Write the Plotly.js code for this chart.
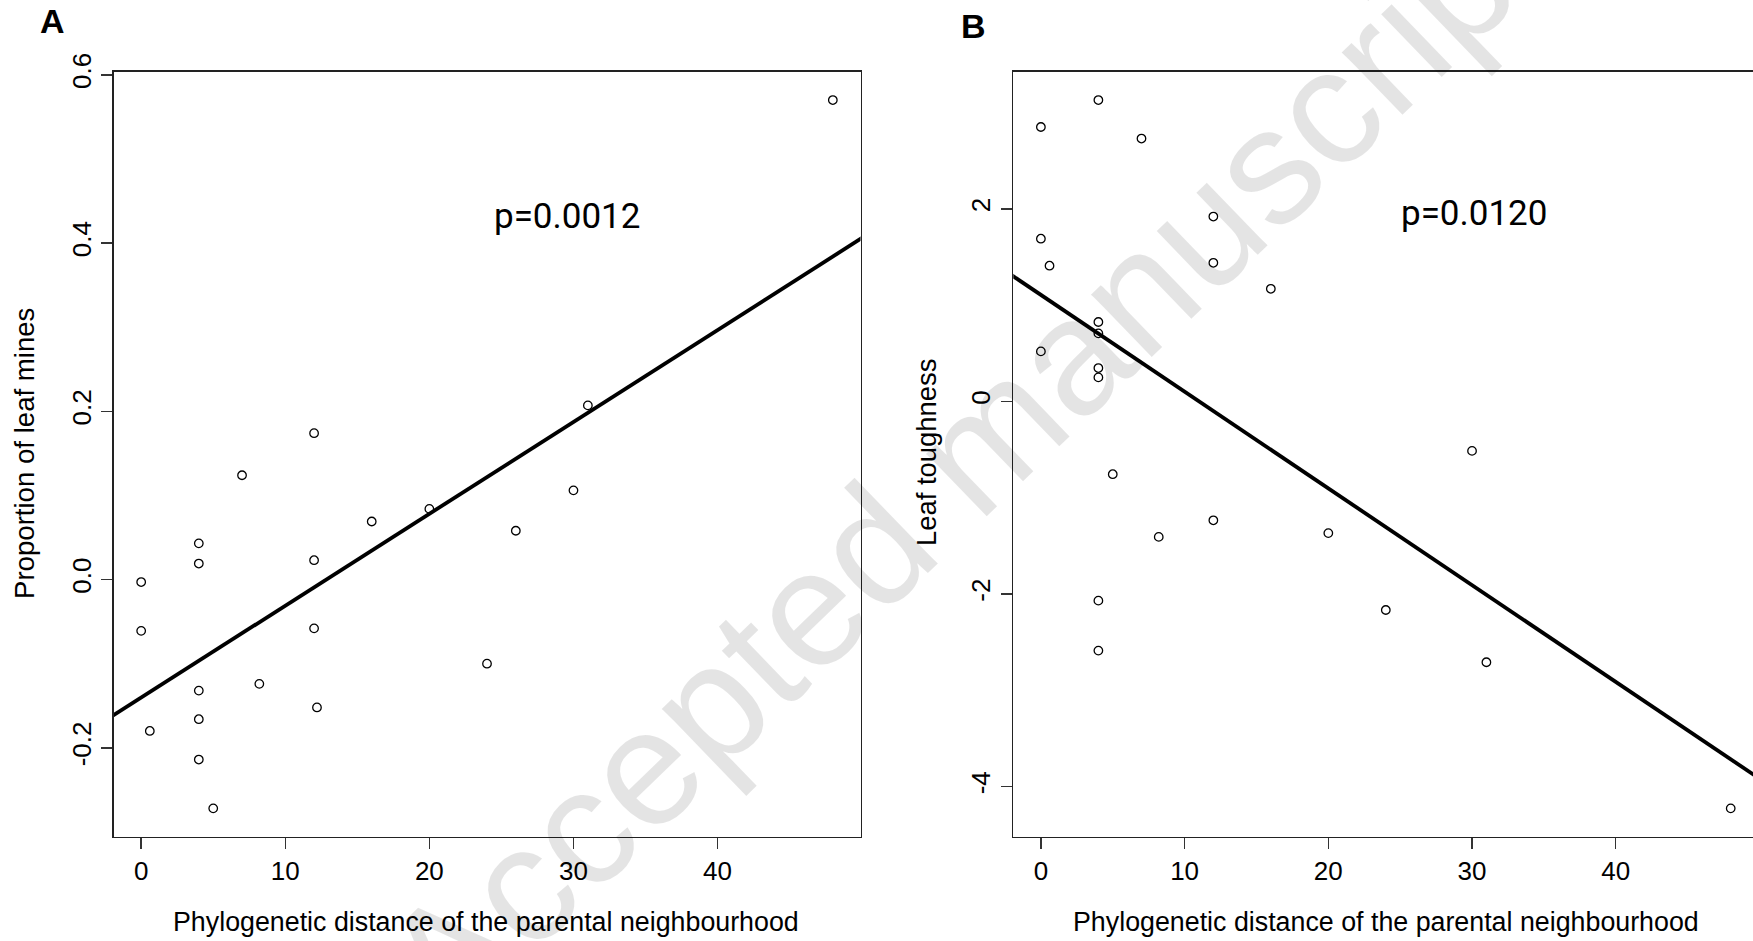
<!DOCTYPE html>
<html>
<head>
<meta charset="utf-8">
<script src="https://cdn.plot.ly/plotly-3.0.1.min.js"></script>
<style>
  html, body { margin: 0; padding: 0; background: #fff; overflow: hidden; }
  #chart { width: 1770px; height: 941px; }
</style>
</head>
<body>
<div id="chart"></div>
<script>
// ---------- data ----------
const distA  = [48, 12, 7, 31, 30, 16, 20, 26, 4, 4, 12, 0, 0, 12, 24, 8.2, 4, 12.2, 4, 0.6, 4, 5];
const minesA = [0.570, 0.174, 0.124, 0.207, 0.106, 0.069, 0.084, 0.058, 0.043, 0.019, 0.023, -0.003,
                -0.061, -0.058, -0.100, -0.124, -0.132, -0.152, -0.166, -0.180, -0.214, -0.272];

const distB  = [4, 0, 7, 12, 0, 0.6, 12, 16, 4, 4, 0, 4, 4, 30, 5, 12, 8.2, 20, 4, 24, 4, 31, 48];
const toughB = [3.13, 2.85, 2.73, 1.92, 1.69, 1.41, 1.44, 1.17, 0.825, 0.707, 0.52, 0.347, 0.25,
                -0.513, -0.755, -1.234, -1.406, -1.367, -2.068, -2.165, -2.587, -2.708, -4.225];

const xTickVals   = [0, 10, 20, 30, 40];
const yTickValsA  = [-0.2, 0.0, 0.2, 0.4, 0.6];
const yTickTextA  = ["-0.2", "0.0", "0.2", "0.4", "0.6"];
const yTickValsB  = [-4, -2, 0, 2];
const yTickTextB  = ["-4", "-2", "0", "2"];

const pTextA = "p=0.0012";
const pTextB = "p=0.0120";
const xTitle = "Phylogenetic distance of the parental neighbourhood";
const yTitleA = "Proportion of leaf mines";
const yTitleB = "Leaf toughness";
const watermark = "Accepted manuscript";

// ---------- helpers ----------
const W = 1770, H = 941;
const px = v => v / W;
const py = v => 1 - v / H;

function rRange(arr) {           // R default: extend data range by 4%
  const mn = Math.min(...arr), mx = Math.max(...arr), d = (mx - mn) * 0.04;
  return [mn - d, mx + d];
}
function ols(x, y) {
  const n = x.length;
  const mx = x.reduce((a, b) => a + b, 0) / n;
  const my = y.reduce((a, b) => a + b, 0) / n;
  let sxy = 0, sxx = 0;
  for (let i = 0; i < n; i++) { sxy += (x[i] - mx) * (y[i] - my); sxx += (x[i] - mx) ** 2; }
  const b = sxy / sxx;
  return { a: my - b * mx, b: b };
}

const xrA = rRange(distA), yrA = rRange(minesA);
const xrB = rRange(distB), yrB = rRange(toughB);
const fitA = ols(distA, minesA), fitB = ols(distB, toughB);
const lineX = xr => [xr[0] - 5, xr[1] + 5];

const markerStyle = { symbol: 'circle-open', size: 8.5, color: '#000', line: { width: 1.3, color: '#000' } };

const traces = [
  { x: distA, y: minesA, type: 'scatter', mode: 'markers', marker: markerStyle, xaxis: 'x', yaxis: 'y', hoverinfo: 'skip' },
  { x: lineX(xrA), y: lineX(xrA).map(v => fitA.a + fitA.b * v), type: 'scatter', mode: 'lines',
    line: { color: '#000', width: 3.8 }, xaxis: 'x', yaxis: 'y', hoverinfo: 'skip' },
  { x: distB, y: toughB, type: 'scatter', mode: 'markers', marker: markerStyle, xaxis: 'x2', yaxis: 'y2', hoverinfo: 'skip' },
  { x: lineX(xrB), y: lineX(xrB).map(v => fitB.a + fitB.b * v), type: 'scatter', mode: 'lines',
    line: { color: '#000', width: 3.8 }, xaxis: 'x2', yaxis: 'y2', hoverinfo: 'skip' }
];

const FONT = 'Liberation Sans, Arial, sans-serif';
const tickFont = { family: FONT, size: 26, color: '#000' };
const axisCommon = {
  showline: true, mirror: true, linecolor: '#222', linewidth: 1.5,
  ticks: 'outside', ticklen: 11, tickwidth: 1.5, tickcolor: '#333',
  showgrid: false, zeroline: false, tickfont: tickFont, fixedrange: true
};

const yDom = [py(836.7), py(71.7)];

const layout = {
  width: W, height: H,
  margin: { l: 0, r: 0, t: 0, b: 0 },
  paper_bgcolor: '#fff', plot_bgcolor: '#fff',
  showlegend: false,
  xaxis:  Object.assign({}, axisCommon, { domain: [px(113.5), px(860.5)], range: xrA, tickmode: 'array', tickvals: xTickVals, anchor: 'y' }),
  yaxis:  Object.assign({}, axisCommon, { domain: yDom, range: yrA, tickmode: 'array', tickvals: yTickValsA, ticktext: yTickTextA, tickangle: -90, anchor: 'x' }),
  xaxis2: Object.assign({}, axisCommon, { domain: [px(1013.3), px(1758.3)], range: xrB, tickmode: 'array', tickvals: xTickVals, anchor: 'y2' }),
  yaxis2: Object.assign({}, axisCommon, { domain: yDom, range: yrB, tickmode: 'array', tickvals: yTickValsB, ticktext: yTickTextB, tickangle: -90, anchor: 'x2' }),
  annotations: [
    { text: watermark, xref: 'paper', yref: 'paper', x: px(965), y: py(458), xanchor: 'center', yanchor: 'middle',
      textangle: -44, showarrow: false, font: { family: FONT, size: 165, color: 'rgba(0,0,0,0.105)' } },
    { text: '<b>A</b>', xref: 'paper', yref: 'paper', x: px(52.5), y: py(21), xanchor: 'center', yanchor: 'middle', showarrow: false,
      font: { family: FONT, size: 34, color: '#000' } },
    { text: '<b>B</b>', xref: 'paper', yref: 'paper', x: px(974), y: py(26), xanchor: 'center', yanchor: 'middle', showarrow: false,
      font: { family: FONT, size: 34, color: '#000' } },
    { text: pTextA, xref: 'paper', yref: 'paper', x: px(566.7), y: py(216), xanchor: 'center', yanchor: 'middle', showarrow: false,
      font: { family: 'Roboto, Liberation Sans, sans-serif', size: 35, color: '#000' } },
    { text: pTextB, xref: 'paper', yref: 'paper', x: px(1473.5), y: py(213), xanchor: 'center', yanchor: 'middle', showarrow: false,
      font: { family: 'Roboto, Liberation Sans, sans-serif', size: 35, color: '#000' } },
    { text: xTitle, xref: 'paper', yref: 'paper', x: px(486), y: py(922), xanchor: 'center', yanchor: 'middle', showarrow: false,
      font: { family: FONT, size: 26.8, color: '#000' } },
    { text: xTitle, xref: 'paper', yref: 'paper', x: px(1386), y: py(922), xanchor: 'center', yanchor: 'middle', showarrow: false,
      font: { family: FONT, size: 26.8, color: '#000' } },
    { text: yTitleA, xref: 'paper', yref: 'paper', x: px(24), y: py(454), xanchor: 'center', yanchor: 'middle', textangle: -90, showarrow: false,
      font: { family: FONT, size: 27.6, color: '#000' } },
    { text: yTitleB, xref: 'paper', yref: 'paper', x: px(926), y: py(453), xanchor: 'center', yanchor: 'middle', textangle: -90, showarrow: false,
      font: { family: FONT, size: 27.4, color: '#000' } }
  ]
};

Plotly.newPlot('chart', traces, layout, { displayModeBar: false, staticPlot: true });
</script>
</body>
</html>
